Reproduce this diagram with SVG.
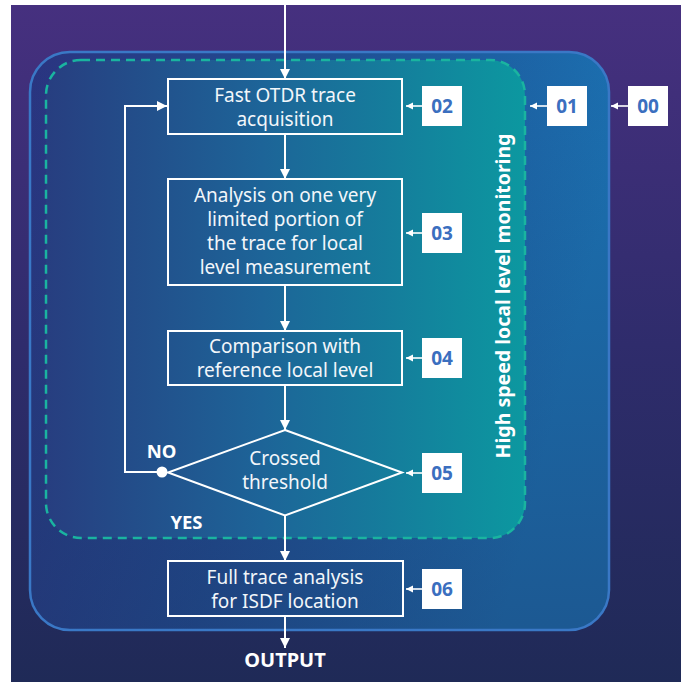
<svg xmlns="http://www.w3.org/2000/svg" width="681" height="682" viewBox="0 0 681 682">
  <defs>
    <linearGradient id="bg" x1="0" y1="0" x2="0" y2="1">
      <stop offset="0" stop-color="#46307f"/>
      <stop offset="0.5" stop-color="#2f2c6c"/>
      <stop offset="1" stop-color="#1f2a57"/>
    </linearGradient>
    <linearGradient id="outer" x1="0" y1="0" x2="1" y2="0.25">
      <stop offset="0" stop-color="#2a3480"/>
      <stop offset="0.5" stop-color="#1f4f94"/>
      <stop offset="1" stop-color="#1b72b2"/>
    </linearGradient>
    <linearGradient id="outerShade" x1="0" y1="0" x2="0" y2="1">
      <stop offset="0" stop-color="#1e2a58" stop-opacity="0"/>
      <stop offset="1" stop-color="#1e2a58" stop-opacity="0.35"/>
    </linearGradient>
    <linearGradient id="inner" x1="0" y1="0" x2="1" y2="0">
      <stop offset="0" stop-color="#273e80"/>
      <stop offset="0.45" stop-color="#1d6498"/>
      <stop offset="1" stop-color="#0c98a0"/>
    </linearGradient>
    <marker id="ah" markerUnits="userSpaceOnUse" markerWidth="12" markerHeight="12" viewBox="0 0 12 12" refX="11" refY="6" orient="auto">
      <path d="M1,1 L11,6 L1,11 Z" fill="#ffffff"/>
    </marker>
    <marker id="ahs" markerUnits="userSpaceOnUse" markerWidth="8" markerHeight="8" viewBox="0 0 8 8" refX="7.5" refY="4" orient="auto">
      <path d="M0.5,0.5 L7.5,4 L0.5,7.5 Z" fill="#ffffff"/>
    </marker>
  </defs>
  <style>
    .box { fill: none; stroke: #ffffff; stroke-width: 2; }
    .t { font-family: "Noto Sans", "Liberation Sans", sans-serif; font-size: 19px; fill: #f2f6fa; text-anchor: middle; }
    .b { font-family: "Noto Sans", "Liberation Sans", sans-serif; font-weight: bold; fill: #ffffff; text-anchor: middle; }
    .lbl { fill: #ffffff; }
    .lt { font-family: "Noto Sans", "Liberation Sans", sans-serif; font-weight: bold; font-size: 19px; fill: #3b6fbf; text-anchor: middle; }
    .conn { stroke: #ffffff; stroke-width: 2; fill: none; marker-end: url(#ah); }
    .sconn { stroke: #ffffff; stroke-width: 1.6; fill: none; marker-end: url(#ahs); }
  </style>

  <rect x="0" y="0" width="681" height="682" fill="#ffffff"/>
  <rect x="11" y="5" width="670" height="677" fill="url(#bg)"/>

  <g id="group-00-outer">
    <rect x="30" y="52" width="579" height="578" rx="40" fill="url(#outer)"/>
    <rect x="30" y="52" width="579" height="578" rx="40" fill="url(#outerShade)" stroke="#3a78c6" stroke-width="2.5"/>
  </g>

  <g id="group-01-monitoring">
    <rect x="46" y="60" width="479" height="478" rx="35" fill="url(#inner)" stroke="#1ab4a0" stroke-width="2.5" stroke-dasharray="9 6"/>
    <text class="b" font-size="19.5" transform="translate(510,296) rotate(-90)">High speed local level monitoring</text>
  </g>

  <g id="connectors">
    <line class="conn" x1="285" y1="0" x2="285" y2="79"/>
    <line class="conn" x1="285" y1="134" x2="285" y2="179"/>
    <line class="conn" x1="285" y1="285" x2="285" y2="331"/>
    <line class="conn" x1="285" y1="385" x2="285" y2="430"/>
    <line class="conn" x1="285" y1="515.5" x2="285" y2="561"/>
    <line class="conn" x1="285" y1="616" x2="285" y2="648"/>
    <path class="conn" d="M162 472 H125 V106 H167"/>
    <circle cx="162" cy="472" r="5.5" fill="#ffffff"/>
    <line class="sconn" x1="422" y1="106" x2="406" y2="106"/>
    <line class="sconn" x1="547" y1="106" x2="530" y2="106"/>
    <line class="sconn" x1="628" y1="106" x2="611" y2="106"/>
    <line class="sconn" x1="422" y1="233" x2="406" y2="233"/>
    <line class="sconn" x1="422" y1="358" x2="406" y2="358"/>
    <line class="sconn" x1="422" y1="473" x2="406" y2="473"/>
    <line class="sconn" x1="422" y1="589" x2="406" y2="589"/>
  </g>

  <g id="step-02">
    <rect class="box" x="168" y="79" width="234" height="55"/>
    <text class="t" x="285" y="101.5">Fast OTDR trace</text>
    <text class="t" x="285" y="125.5">acquisition</text>
  </g>

  <g id="step-03">
    <rect class="box" x="168" y="179" width="234" height="106"/>
    <text class="t" x="285" y="201.5">Analysis on one very</text>
    <text class="t" x="285" y="225.5">limited portion of</text>
    <text class="t" x="285" y="249.5">the trace for local</text>
    <text class="t" x="285" y="273.5">level measurement</text>
  </g>

  <g id="step-04">
    <rect class="box" x="168" y="331" width="234" height="54"/>
    <text class="t" x="285" y="352.5">Comparison with</text>
    <text class="t" x="285" y="376.5">reference local level</text>
  </g>

  <g id="step-05">
    <polygon class="box" points="285,430 402,472.5 285,515.5 168,472.5"/>
    <text class="t" x="285" y="465">Crossed</text>
    <text class="t" x="285" y="489">threshold</text>
  </g>

  <g id="label-no">
    <text class="b" font-size="18.5" x="161.5" y="457.5">NO</text>
  </g>
  <g id="label-yes">
    <text class="b" font-size="18.5" x="186.5" y="528.5">YES</text>
  </g>

  <g id="step-06">
    <rect class="box" x="168" y="561" width="235" height="55"/>
    <text class="t" x="285" y="584">Full trace analysis</text>
    <text class="t" x="285" y="607.5">for ISDF location</text>
  </g>

  <g id="output">
    <text class="b" font-size="20" x="285" y="667">OUTPUT</text>
  </g>

  <g id="tag-00"><rect class="lbl" x="628" y="86" width="40" height="40"/><text class="lt" x="648" y="112.5">00</text></g>
  <g id="tag-01"><rect class="lbl" x="547" y="86" width="40" height="40"/><text class="lt" x="567" y="112.5">01</text></g>
  <g id="tag-02"><rect class="lbl" x="422" y="86" width="40" height="40"/><text class="lt" x="442" y="112.5">02</text></g>
  <g id="tag-03"><rect class="lbl" x="422" y="213" width="40" height="40"/><text class="lt" x="442" y="239.5">03</text></g>
  <g id="tag-04"><rect class="lbl" x="422" y="338" width="40" height="40"/><text class="lt" x="442" y="364.5">04</text></g>
  <g id="tag-05"><rect class="lbl" x="422" y="453" width="40" height="40"/><text class="lt" x="442" y="479.5">05</text></g>
  <g id="tag-06"><rect class="lbl" x="422" y="569" width="40" height="40"/><text class="lt" x="442" y="595.5">06</text></g>
</svg>
